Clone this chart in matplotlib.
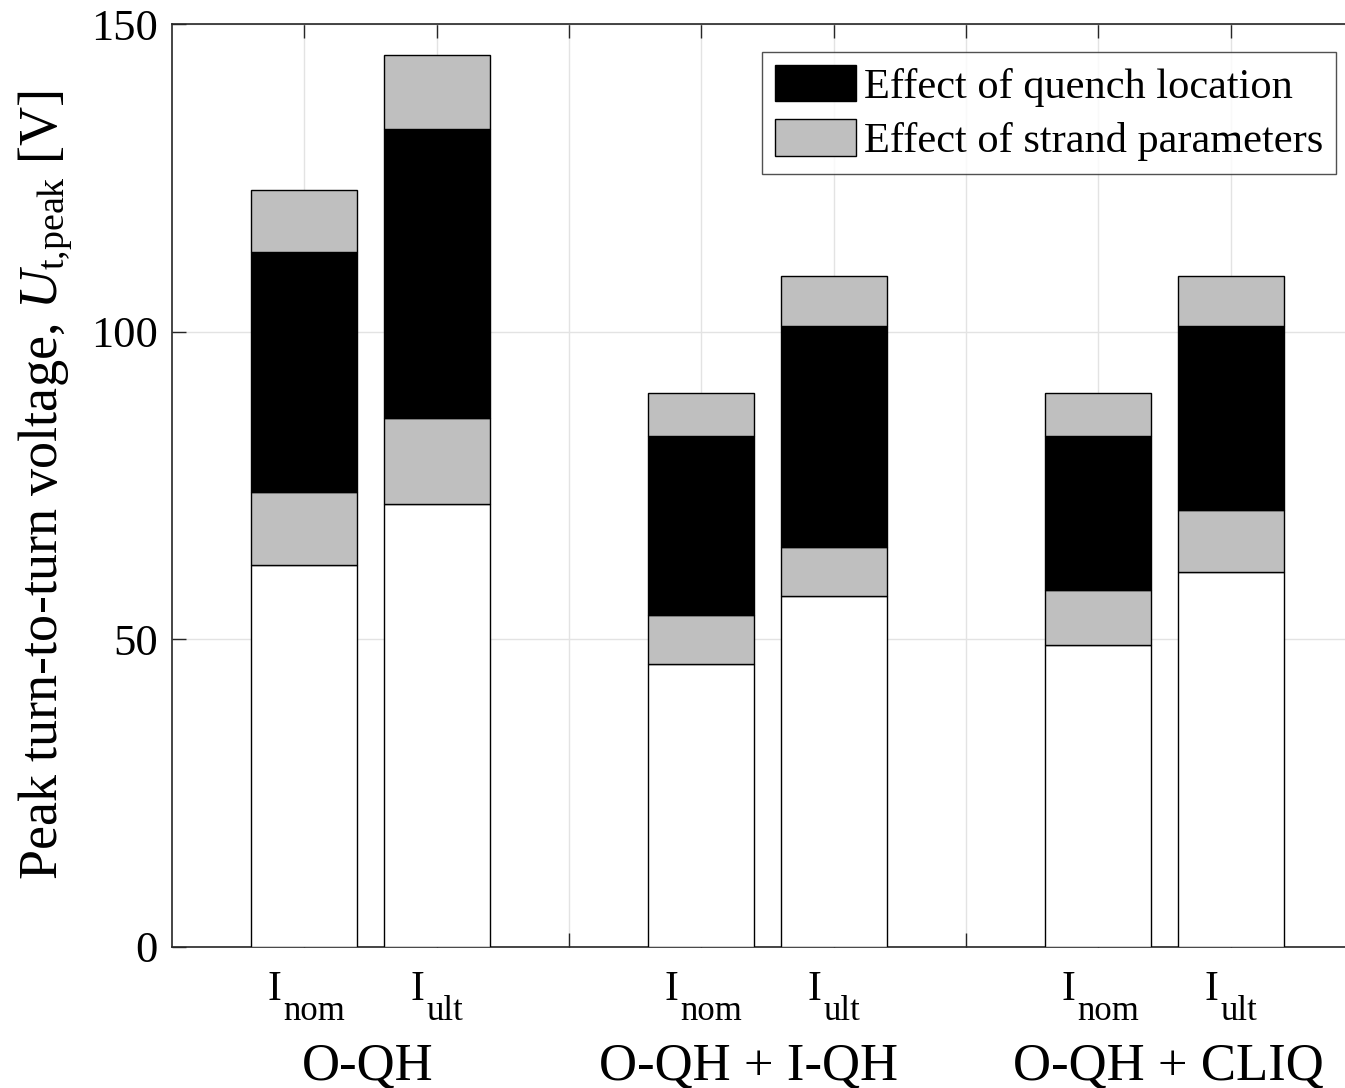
import matplotlib.pyplot as plt
from matplotlib.patches import Patch
from matplotlib.transforms import blended_transform_factory
import numpy as np

plt.rcParams['font.family'] = ['Liberation Serif', 'DejaVu Serif']
plt.rcParams['mathtext.fontset'] = 'custom'
plt.rcParams['mathtext.rm'] = 'Liberation Serif'
plt.rcParams['mathtext.it'] = 'Liberation Serif:italic'

# bar levels [V]
pos = [1, 2, 4, 5, 7, 8]
base = [62, 72, 46, 57, 49, 61]          # white part
strand_lo = [74, 86, 54, 65, 58, 71]     # top of lower grey part
quench_top = [113, 133, 83, 101, 83, 101]  # top of black part
total = [123, 145, 90, 109, 90, 109]     # top of upper grey part

cur_subs = ['nom', 'ult'] * 3
groups = ['O-QH', 'O-QH + I-QH', 'O-QH + CLIQ']
group_x = [1.48, 4.36, 7.53]
grey = '#bfbfbf'

base = np.array(base)
strand_lo = np.array(strand_lo)
quench_top = np.array(quench_top)
total = np.array(total)

W, H = 1345, 1088
fig = plt.figure(figsize=(W / 100, H / 100), dpi=100)
ax = fig.add_axes([172/W, 1 - 947/H, 1191/W, 923/H])

kw = dict(width=0.8, edgecolor='black', linewidth=1.0, zorder=3)
ax.bar(pos, base, color='white', **kw)
ax.bar(pos, strand_lo - base, bottom=base, color=grey, **kw)
ax.bar(pos, quench_top - strand_lo, bottom=strand_lo, color='black', **kw)
ax.bar(pos, total - quench_top, bottom=quench_top, color=grey, **kw)

ax.set_xlim(0, 9)
ax.set_ylim(0, 150)
ax.set_yticks([0, 50, 100, 150])
ax.set_xticks(range(1, 9))
ax.set_xticklabels([])
ax.grid(True, color='#e3e3e3', linewidth=1.0, zorder=0)
ax.set_axisbelow(True)
ax.tick_params(direction='in', length=10, width=1.0, color='#262626',
               labelsize=32, pad=10, top=True, right=True)
for s in ax.spines.values():
    s.set_color('#262626')
    s.set_linewidth(1.2)

ax.set_ylabel(r'Peak turn-to-turn voltage, $U_{\mathrm{t{,}peak}}\ \mathrm{[V]}$',
              fontsize=39, labelpad=12)

# x in data, y in figure pixels (from top)
tr = blended_transform_factory(ax.transData, fig.transFigure)
for p, sub in zip(pos, cur_subs):
    split = p - (0.17 if sub == 'nom' else 0.09)
    ax.text(split, 1 - 1000/H, 'I', transform=tr, ha='right', va='baseline', fontsize=30)
    ax.text(split + 0.01, 1 - 1020/H, sub, transform=tr, ha='left', va='baseline', fontsize=25)
for gx, g in zip(group_x, groups):
    ax.text(gx, 1 - 1079/H, g, transform=tr, ha='center', va='baseline', fontsize=38)

handles = [Patch(facecolor='black', edgecolor='black', label='Effect of quench location'),
           Patch(facecolor=grey, edgecolor='black', label='Effect of strand parameters')]
leg = fig.legend(handles=handles, loc='upper right', bbox_to_anchor=(1336/W, 1 - 52/H),
                 fontsize=30.5, frameon=True, fancybox=False, edgecolor='#262626',
                 handlelength=1.9, handleheight=0.95, handletextpad=0.2, labelspacing=0.3,
                 borderpad=0.3, borderaxespad=0)
leg.get_frame().set_linewidth(1.0)

fig.savefig('out.png', dpi=100)
